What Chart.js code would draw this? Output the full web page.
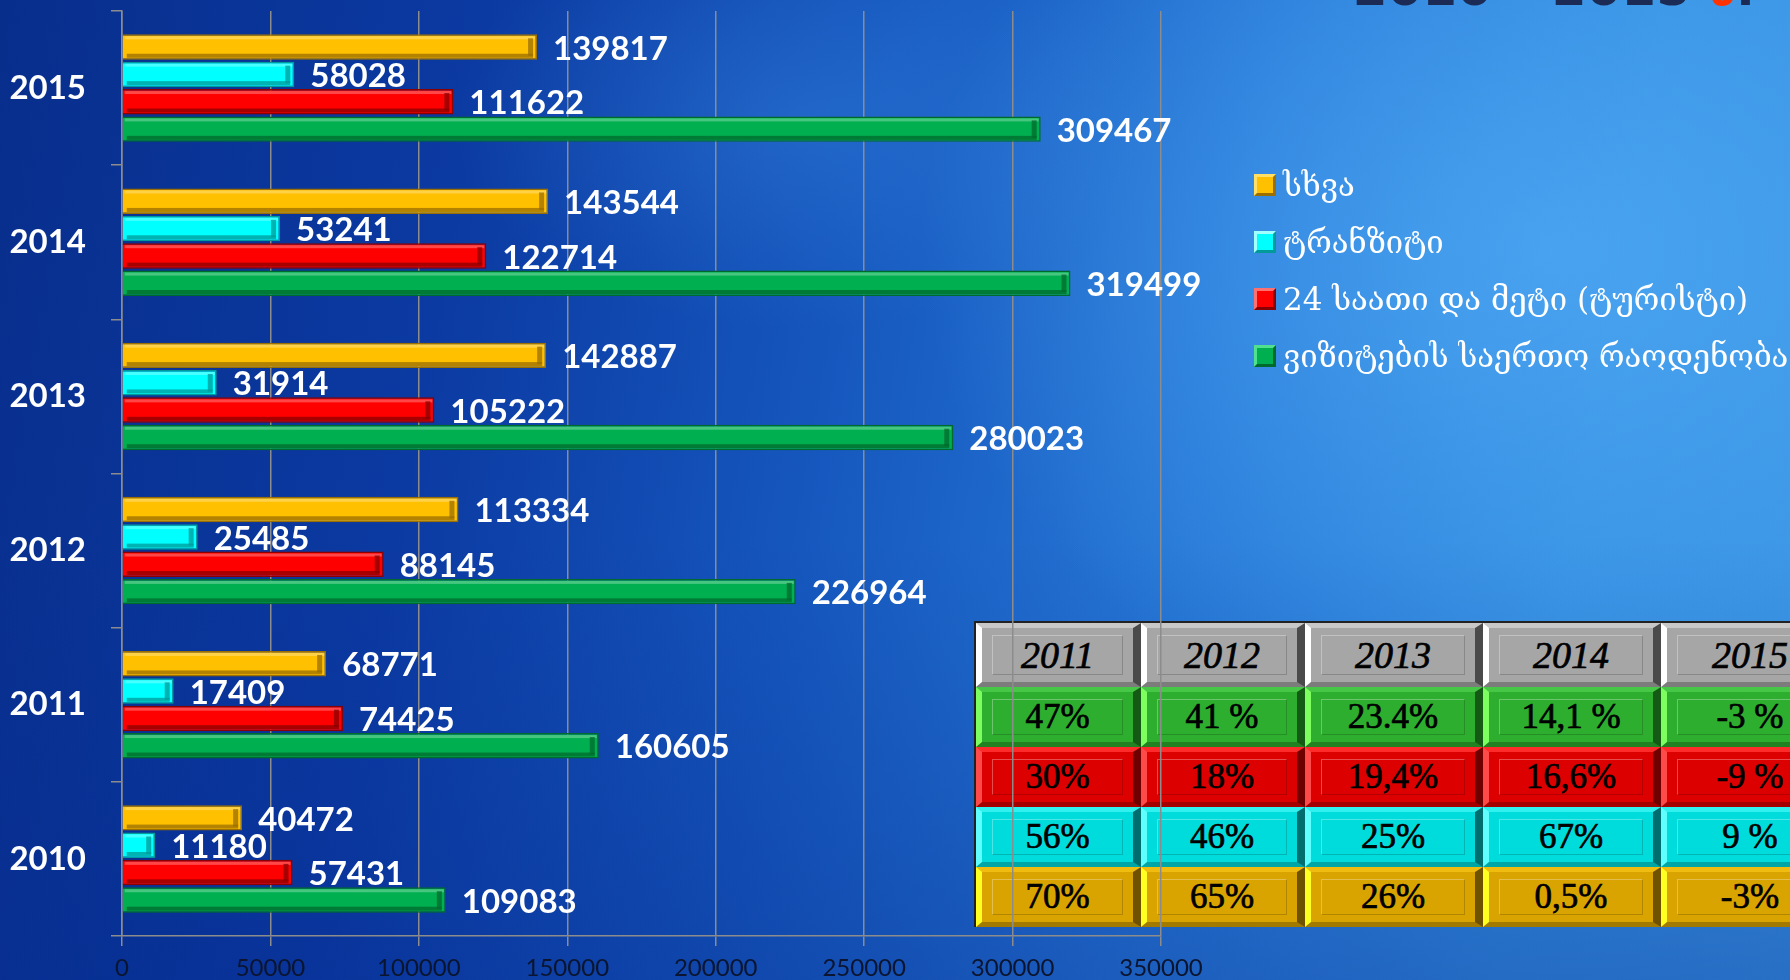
<!DOCTYPE html>
<html>
<head>
<meta charset="utf-8">
<script src="https://cdn.jsdelivr.net/npm/chart.js@4"></script>
<style>
  html, body { margin: 0; padding: 0; }
  body {
    width: 1790px; height: 980px; overflow: hidden; position: relative;
    background:
      radial-gradient(ellipse 900px 700px at 1550px 250px, rgba(80,170,245,0.75), rgba(80,170,245,0) 70%),
      radial-gradient(ellipse 500px 300px at 800px 120px, rgba(60,140,230,0.35), rgba(60,140,230,0) 70%),
      linear-gradient(180deg, rgba(0,0,0,0) 55%, rgba(5,40,140,0.35) 100%),
      linear-gradient(100deg, #082e8c 0%, #0b3aa2 25%, #1556bd 45%, #2677d6 65%, #3590e2 85%, #3a95e4 100%);
  }
  #wrap { position: absolute; left: 0; top: 0; width: 1790px; height: 980px; z-index: 2; }
  #title {
    position: absolute; right: 35px; top: -41px; z-index: 1;
    font: bold 50px "DejaVu Sans", sans-serif; color: #1b2b55; white-space: nowrap;
  }
  #title span { color: #ff3300; }
  #legend { position: absolute; left: 1254px; top: 156px; z-index: 3; }
  .item { display: flex; align-items: center; height: 57px; }
  .mark {
    width: 16px; height: 16px; margin-right: 7px;
    border-style: solid; border-width: 3px;
  }
  .item span { color: #fff; font: 31px "DejaVu Serif", "DejaVu Sans", serif; white-space: nowrap; }
  #growth {
    position: absolute; left: 974px; top: 621px; z-index: 1;
    border-collapse: separate; border-spacing: 0; table-layout: fixed;
    border-top: 2px solid #222; border-left: 2px solid #222;
  }
  #growth td {
    box-sizing: border-box; height: 60px; padding: 0; text-align: center;
    border-style: solid; border-width: 5px 8px 5px 6px;
    font: 35px "Liberation Serif", serif; color: #000;
    -webkit-text-stroke: 0.7px #000; position: relative; white-space: nowrap;
  }
  #growth tr.head td { height: 64px; font-style: italic; font-size: 38px; }
  #growth td::after {
    content: ""; position: absolute; left: 10px; right: 10px; top: 7px; bottom: 7px;
    border: 1px solid rgba(0,0,0,0.18); border-left-color: rgba(255,255,255,0.3); border-top-color: rgba(255,255,255,0.3);
  }
</style>
</head>
<body>
<div id="title">2010 – 2015 <span>წ</span>.</div>
<table id="growth"></table>
<div id="legend"></div>
<div id="wrap"><canvas id="chart" width="1790" height="980"></canvas></div>
<script>
const years = ['2015', '2014', '2013', '2012', '2011', '2010'];
const seriesNames = ['სხვა', 'ტრანზიტი', '24 საათი და მეტი (ტურისტი)', 'ვიზიტების საერთო რაოდენობა'];
const other = [139817, 143544, 142887, 113334, 68771, 40472];
const transit = [58028, 53241, 31914, 25485, 17409, 11180];
const tourist = [111622, 122714, 105222, 88145, 74425, 57431];
const total = [309467, 319499, 280023, 226964, 160605, 109083];
const xTicks = [0, 50000, 100000, 150000, 200000, 250000, 300000, 350000];

const tableYears = ['2011', '2012', '2013', '2014', '2015'];
const growthTotal = ['47%', '41 %', '23.4%', '14,1 %', '-3 %'];
const growthTourist = ['30%', '18%', '19,4%', '16,6%', '-9 %'];
const growthTransit = ['56%', '46%', '25%', '67%', '9 %'];
const growthOther = ['70%', '65%', '26%', '0,5%', '-3%'];

const colors = ['#ffc000', '#00ffff', '#ff0000', '#00b050'];
const darks = ['#9a6e00', '#009a9a', '#8a0000', '#006a2c'];
const lights = ['#ffe066', '#a0ffff', '#ff7070', '#50e090'];

// legend
const legend = document.getElementById('legend');
seriesNames.forEach((name, i) => {
  const row = document.createElement('div');
  row.className = 'item';
  row.innerHTML = `<div class="mark" style="background:${colors[i]};border-color:${lights[i]} ${darks[i]} ${darks[i]} ${lights[i]}"></div><span>${name}</span>`;
  legend.appendChild(row);
});

// growth table
const colWidths = [165, 164, 178, 178, 180];
const tableRows = [
  { cells: tableYears, bg: '#a6a6a6', hi: '#ffffff', top: '#c8c8c8', lo: '#4a4a4a', head: true },
  { cells: growthTotal, bg: '#2eae2e', hi: '#7dff60', top: '#46c846', lo: '#145a14' },
  { cells: growthTourist, bg: '#dd0000', hi: '#ff4a4a', top: '#ff2a2a', lo: '#6e0000' },
  { cells: growthTransit, bg: '#00dcdc', hi: '#60ffff', top: '#30f0f0', lo: '#006e6e' },
  { cells: growthOther, bg: '#d9a300', hi: '#ffff20', top: '#f0bc10', lo: '#6e5200' }
];
const table = document.getElementById('growth');
table.style.width = colWidths.reduce((a, b) => a + b, 0) + 2 + 'px';
tableRows.forEach(r => {
  const tr = document.createElement('tr');
  if (r.head) tr.className = 'head';
  r.cells.forEach((c, j) => {
    const td = document.createElement('td');
    td.textContent = c;
    td.style.width = colWidths[j] + 'px';
    td.style.background = r.bg;
    td.style.borderColor = `${r.top} ${r.lo} ${r.lo} ${r.hi}`;
    td.style.borderBottomColor = 'rgba(0,0,0,0.25)';
    tr.appendChild(td);
  });
  table.appendChild(tr);
});

const bevelPlugin = {
  id: 'bevel',
  afterDatasetsDraw(chart) {
    const ctx = chart.ctx;
    ctx.save();
    chart.data.datasets.forEach((ds, i) => {
      chart.getDatasetMeta(i).data.forEach(bar => {
        const p = bar.getProps(['x', 'y', 'base', 'height'], true);
        const top = p.y - p.height / 2, bottom = p.y + p.height / 2;
        const len = p.x - p.base;
        ctx.fillStyle = 'rgba(255,255,255,0.28)';
        ctx.fillRect(p.base + 2, top + 2, len - 4, 3);
        ctx.fillStyle = darks[i];
        ctx.globalAlpha = 0.75;
        ctx.fillRect(p.base + 4, bottom - 6, len - 8, 4);
        ctx.fillRect(p.x - 9, top + 4, 5, p.height - 8);
        ctx.globalAlpha = 1;
      });
    });
    ctx.restore();
  }
};

const valueLabels = {
  id: 'valueLabels',
  afterDatasetsDraw(chart) {
    const ctx = chart.ctx;
    ctx.save();
    ctx.font = 'bold 33px Lato, "Open Sans", sans-serif';
    ctx.fillStyle = '#ffffff';
    ctx.textBaseline = 'middle';
    ctx.textAlign = 'left';
    chart.data.datasets.forEach((ds, i) => {
      chart.getDatasetMeta(i).data.forEach((bar, j) => {
        ctx.fillText(ds.data[j], bar.x + 16, bar.y + 2);
      });
    });
    ctx.restore();
  }
};

const series = [other, transit, tourist, total];
new Chart(document.getElementById('chart'), {
  type: 'bar',
  data: {
    labels: years,
    datasets: series.map((d, i) => ({
      label: seriesNames[i],
      data: d,
      backgroundColor: colors[i],
      borderColor: darks[i],
      borderWidth: 1.5,
      categoryPercentage: 0.71,
      barPercentage: 0.93
    }))
  },
  options: {
    indexAxis: 'y',
    responsive: false,
    animation: false,
    layout: { padding: { top: 11, right: 629, left: 0, bottom: 0 } },
    plugins: { legend: { display: false }, tooltip: { enabled: false } },
    scales: {
      x: {
        min: 0,
        max: 350000,
        afterBuildTicks: axis => { axis.ticks = xTicks.map(v => ({ value: v })); },
        afterFit: axis => { axis.height = 44; },
        grid: { color: '#8c8c8c', lineWidth: 1.5, tickLength: 10 },
        border: { color: '#8c8c8c', width: 1.5 },
        ticks: { color: '#0b1530', padding: 8, font: { family: 'Lato', size: 24 }, maxRotation: 0, callback: v => String(v) }
      },
      y: {
        afterFit: axis => { axis.width = 122; axis.paddingTop = 0; axis.paddingBottom = 0; },
        grid: { drawOnChartArea: false, offset: true, color: '#8c8c8c', lineWidth: 1.5, tickLength: 11 },
        border: { color: '#8c8c8c', width: 1.5 },
        ticks: { color: '#ffffff', padding: 25, font: { family: 'Lato', size: 33, weight: 'bold' } }
      }
    }
  },
  plugins: [bevelPlugin, valueLabels]
});
</script>
</body>
</html>
